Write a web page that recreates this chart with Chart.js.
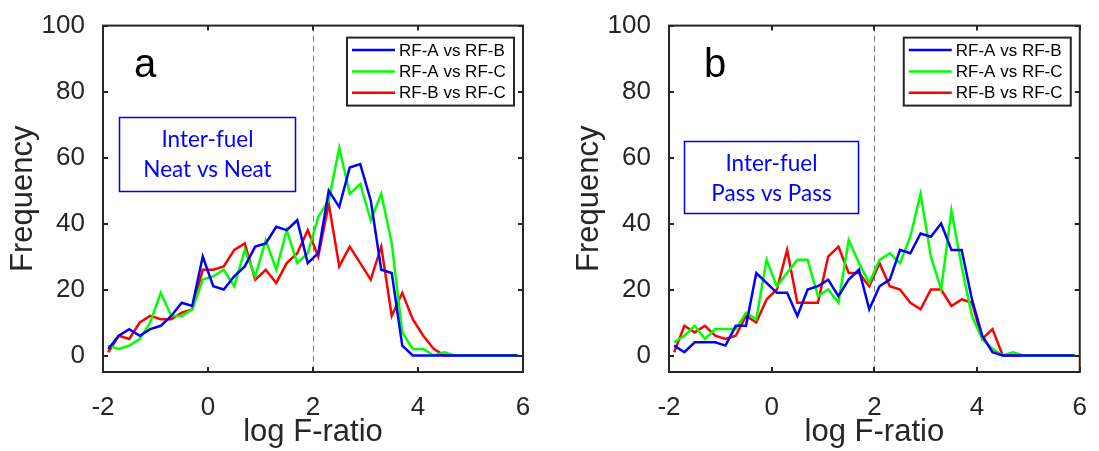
<!DOCTYPE html>
<html>
<head>
<meta charset="utf-8">
<script src="https://cdn.jsdelivr.net/npm/chart.js@4.4.1/dist/chart.umd.min.js"></script>
<style>
  html, body { margin: 0; padding: 0; background: #fff; }
  #wrap { position: relative; width: 1099px; height: 451px; overflow: hidden; }
  canvas { position: absolute; top: 0; }
  #chartA { left: 0; }
  #chartB { left: 566px; }
</style>
</head>
<body>
<div id="wrap">
  <canvas id="chartA" width="549" height="451"></canvas>
  <canvas id="chartB" width="533" height="451"></canvas>
</div>
<script>
// histogram bin centres (log F-ratio)
const bins = [-1.9, -1.7, -1.5, -1.3, -1.1, -0.9, -0.7, -0.5, -0.3, -0.1,
              0.1, 0.3, 0.5, 0.7, 0.9, 1.1, 1.3, 1.5, 1.7, 1.9,
              2.1, 2.3, 2.5, 2.7, 2.9, 3.1, 3.3, 3.5, 3.7, 3.9,
              4.1, 4.3, 4.5, 4.7, 4.9, 5.1, 5.3, 5.5, 5.7, 5.9];
const xTicks = [-2, 0, 2, 4, 6];
const yTicks = [0, 20, 40, 60, 80, 100];
const seriesLabels = ['RF-A vs RF-B', 'RF-A vs RF-C', 'RF-B vs RF-C'];
const seriesColors = ['#0000ff', '#00ff00', '#ff0000'];
const threshold = 2;

// a) neat vs neat
const neatAB = [2, 6, 8, 6, 8, 9, 12, 16, 15, 30,
                21, 20, 24, 27, 33, 34, 39, 38, 41, 28,
                31, 50, 45, 57, 58, 47, 26, 25, 3, 0,
                0, 0, 0, 0, 0, 0, 0, 0, 0, 0];
const neatAC = [3, 2, 3, 5, 10, 19, 12, 12, 14, 23,
                24, 26, 21, 32, 24, 35, 26, 38, 28, 31,
                42, 47, 63, 49, 52, 41, 49, 34, 7, 2,
                2, 0, 1, 0, 0, 0, 0, 0, 0, 0];
const neatBC = [1, 6, 5, 10, 12, 11, 11, 13, 14, 26,
                26, 27, 32, 34, 23, 26, 22, 28, 31, 38,
                30, 46, 27, 33, 28, 23, 33, 12, 19, 11,
                6, 2, 0, 0, 0, 0, 0, 0, 0, 0];

// b) pass vs pass
const passAB = [3, 1, 4, 4, 4, 3, 9, 9, 25, 22,
                19, 19, 12, 20, 21, 23, 18, 23, 26, 14,
                21, 23, 32, 31, 37, 36, 40, 32, 32, 17,
                6, 1, 0, 0, 0, 0, 0, 0, 0, 0];
const passAC = [4, 6, 9, 5, 8, 8, 8, 13, 11, 29,
                21, 25, 29, 29, 18, 20, 16, 35, 28, 22,
                29, 31, 28, 36, 49, 30, 20, 44, 27, 12,
                5, 2, 0, 1, 0, 0, 0, 0, 0, 0];
const passBC = [1, 9, 7, 9, 6, 5, 6, 12, 10, 17,
                20, 32, 16, 16, 16, 30, 33, 25, 25, 21,
                28, 21, 20, 16, 14, 20, 20, 15, 17, 16,
                5, 8, 0, 0, 0, 0, 0, 0, 0, 0];

const axisColor = '#262626';
const sansFont = "'Liberation Sans', Arial, sans-serif";

Chart.defaults.font.family = sansFont;
Chart.defaults.color = axisColor;

// matlab-style box: frame, inward ticks, legend, note box and panel letter
const framePlugin = {
  id: 'frame',
  beforeDatasetsDraw(chart) {
    const { ctx, chartArea: a, scales: { x } } = chart;
    const px = Math.round(x.getPixelForValue(threshold)) + 0.5;
    ctx.save();
    ctx.strokeStyle = '#7a7a7a';
    ctx.lineWidth = 1;
    ctx.setLineDash([6, 4]);
    ctx.beginPath();
    ctx.moveTo(px, a.top);
    ctx.lineTo(px, a.bottom);
    ctx.stroke();
    ctx.restore();
  },
  afterDatasetsDraw(chart, args, opts) {
    const { ctx, chartArea: a, scales: { x, y } } = chart;
    ctx.save();

    // axes box + ticks on all four sides
    ctx.strokeStyle = axisColor;
    ctx.lineWidth = 2;
    ctx.strokeRect(a.left, a.top, a.right - a.left, a.bottom - a.top);
    ctx.beginPath();
    xTicks.forEach(v => {
      const px = Math.round(x.getPixelForValue(v));
      ctx.moveTo(px, a.bottom); ctx.lineTo(px, a.bottom - 5);
      ctx.moveTo(px, a.top); ctx.lineTo(px, a.top + 5);
    });
    yTicks.forEach(v => {
      const py = Math.round(y.getPixelForValue(v));
      ctx.moveTo(a.left, py); ctx.lineTo(a.left + 5, py);
      ctx.moveTo(a.right, py); ctx.lineTo(a.right - 5, py);
    });
    ctx.stroke();

    // note box, placed in data units
    const nb = opts.noteBox;
    const nx0 = Math.round(x.getPixelForValue(nb.x0)) + 0.5;
    const nx1 = Math.round(x.getPixelForValue(nb.x1)) + 0.5;
    const ny0 = Math.round(y.getPixelForValue(nb.y1)) + 0.5;
    const ny1 = Math.round(y.getPixelForValue(nb.y0)) + 0.5;
    ctx.strokeStyle = '#0000ff';
    ctx.lineWidth = 1.5;
    ctx.strokeRect(nx0, ny0, nx1 - nx0, ny1 - ny0);
    ctx.fillStyle = '#0000ff';
    ctx.font = "22.5px Lato, 'Open Sans', sans-serif";
    ctx.textAlign = 'center';
    ctx.textBaseline = 'alphabetic';
    const cx = (nx0 + nx1) / 2;
    opts.note.forEach((line, i) => {
      ctx.fillText(line, cx, ny0 + 29 + i * 30);
    });

    // legend in the upper right corner
    const lw = 167, lh = 68;
    const lx = a.right - 9 - lw, ly = a.top + 12;
    ctx.fillStyle = '#fff';
    ctx.fillRect(lx, ly, lw, lh);
    ctx.strokeStyle = axisColor;
    ctx.lineWidth = 2;
    ctx.strokeRect(lx, ly, lw, lh);
    ctx.font = '17px ' + sansFont;
    ctx.textAlign = 'left';
    ctx.textBaseline = 'middle';
    chart.data.datasets.forEach((ds, i) => {
      const ry = ly + 12.5 + i * 21.3;
      ctx.strokeStyle = ds.borderColor;
      ctx.lineWidth = 2.5;
      ctx.beginPath();
      ctx.moveTo(lx + 5, ry);
      ctx.lineTo(lx + 48, ry);
      ctx.stroke();
      ctx.fillStyle = '#000';
      ctx.fillText(ds.label, lx + 52, ry + 1);
    });

    // panel letter
    ctx.fillStyle = '#000';
    ctx.font = '40px ' + sansFont;
    ctx.textAlign = 'center';
    ctx.textBaseline = 'alphabetic';
    ctx.fillText(opts.letter, a.left + opts.letterX, 77);

    ctx.restore();
  }
};

function makePanel(canvasId, ab, ac, bc, panel) {
  const values = [ab, ac, bc];
  return new Chart(document.getElementById(canvasId), {
    type: 'line',
    data: {
      datasets: values.map((vals, i) => ({
        label: seriesLabels[i],
        data: bins.map((b, k) => ({ x: b, y: vals[k] })),
        borderColor: seriesColors[i],
        borderWidth: 2.5,
        pointRadius: 0,
        tension: 0,
        fill: false
      }))
    },
    options: {
      responsive: false,
      animation: false,
      devicePixelRatio: 1,
      layout: { padding: { top: 24, right: panel.padRight, bottom: 0, left: 0 } },
      scales: {
        x: {
          type: 'linear',
          min: -2,
          max: 6,
          afterBuildTicks: ax => { ax.ticks = xTicks.map(v => ({ value: v })); },
          afterFit: ax => { ax.height = 79; },
          grid: { display: false },
          border: { display: false },
          ticks: { padding: 12, font: { size: 26 }, color: axisColor },
          title: { display: true, text: 'log F-ratio', font: { size: 31 }, color: axisColor, padding: 0 }
        },
        y: {
          min: -5,
          max: 100,
          afterBuildTicks: ax => { ax.ticks = yTicks.map(v => ({ value: v })); },
          afterFit: ax => { ax.width = 103; },
          grid: { display: false },
          border: { display: false },
          ticks: { padding: 10, font: { size: 26 }, color: axisColor },
          title: { display: true, text: 'Frequency', font: { size: 31 }, color: axisColor, padding: { top: 5, bottom: 0 } }
        }
      },
      plugins: {
        legend: { display: false },
        tooltip: { enabled: false },
        frame: panel
      }
    },
    plugins: [framePlugin]
  });
}

makePanel('chartA', neatAB, neatAC, neatBC, {
  padRight: 26,
  letter: 'a',
  letterX: 42,
  note: ['Inter-fuel', 'Neat vs Neat'],
  noteBox: { x0: -1.7, x1: 1.66, y0: 50, y1: 72.4 }
});

makePanel('chartB', passAB, passAC, passBC, {
  padRight: 11,
  letter: 'b',
  letterX: 46,
  note: ['Inter-fuel', 'Pass vs Pass'],
  noteBox: { x0: -1.7, x1: 1.69, y0: 43.1, y1: 65.1 }
});
</script>
</body>
</html>
